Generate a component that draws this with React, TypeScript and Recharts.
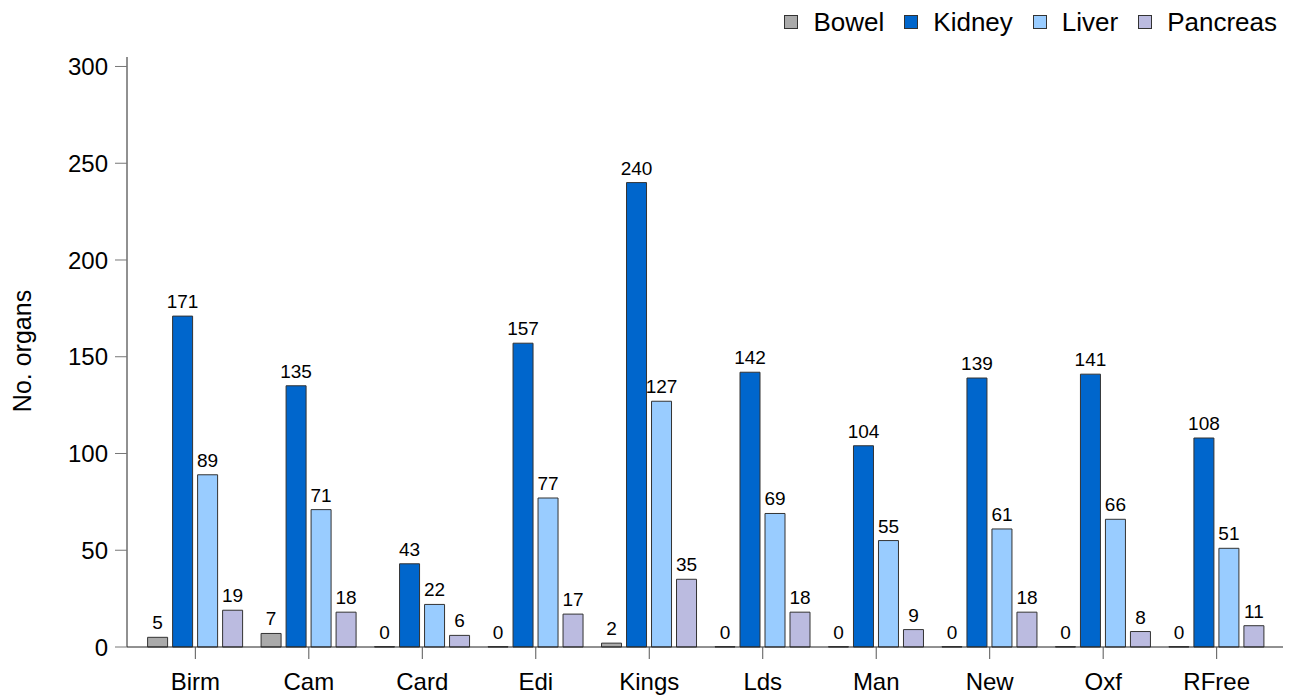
import { BarChart, Bar, XAxis, YAxis, LabelList } from 'recharts'

const centres = ['Birm', 'Cam', 'Card', 'Edi', 'Kings', 'Lds', 'Man', 'New', 'Oxf', 'RFree']
const bowel = [5, 7, 0, 0, 2, 0, 0, 0, 0, 0]
const kidney = [171, 135, 43, 157, 240, 142, 104, 139, 141, 108]
const liver = [89, 71, 22, 77, 127, 69, 55, 61, 66, 51]
const pancreas = [19, 18, 6, 17, 35, 18, 9, 18, 8, 11]
const yTicks = [0, 50, 100, 150, 200, 250, 300]

const series = [
  { key: 'Bowel', color: '#aaaaaa' },
  { key: 'Kidney', color: '#0066cc' },
  { key: 'Liver', color: '#99ccff' },
  { key: 'Pancreas', color: '#bbbbe0' },
]

const data = centres.map((c, i) => ({
  centre: c,
  Bowel: bowel[i],
  Kidney: kidney[i],
  Liver: liver[i],
  Pancreas: pancreas[i],
}))

const font = '"Liberation Sans", Arial, sans-serif'

// zero-height bars get no label otherwise, so draw the value ourselves
const renderValue = (props: any) => {
  const { x, y, width, value } = props
  if (value == null) return null
  return (
    <text x={x + width / 2} y={y - 8} textAnchor="middle" fontSize={19} fill="#000">
      {value}
    </text>
  )
}

export default function App() {
  return (
    <div style={{ position: 'relative', width: 1283, height: 690, fontFamily: font }}>
      <div
        style={{
          position: 'absolute',
          top: 0,
          right: 14,
          display: 'flex',
          alignItems: 'center',
          fontSize: 26,
          lineHeight: '28px',
          color: '#000',
        }}
      >
        {series.map((s, i) => (
          <div key={s.key} style={{ display: 'flex', alignItems: 'center', marginLeft: i === 0 ? 0 : 20 }}>
            <span
              style={{
                display: 'inline-block',
                width: 12,
                height: 12,
                background: s.color,
                border: '1px solid #333',
                marginRight: 15,
              }}
            />
            <span>{s.key}</span>
          </div>
        ))}
      </div>
      <BarChart
        width={1283}
        height={690}
        data={data}
        margin={{ top: 49, right: 6, bottom: 6, left: 39 }}
        barSize={20}
        barGap={5}
        style={{ fontFamily: font }}
      >
        <XAxis
          dataKey="centre"
          height={45}
          padding={{ left: 11.6, right: 11.6 }}
          axisLine={{ stroke: '#222' }}
          tickLine={{ stroke: '#555' }}
          tickSize={12}
          tickMargin={14}
          tick={{ fontSize: 24, fill: '#000' }}
          interval={0}
        />
        <YAxis
          width={80}
          domain={[0, 304.9]}
          ticks={yTicks}
          axisLine={{ stroke: '#222' }}
          tickLine={{ stroke: '#777' }}
          tickSize={12}
          tickMargin={7}
          tick={{ fontSize: 24, fill: '#000' }}
          label={{
            content: () => (
              <text
                x={23}
                y={343}
                transform="rotate(-90 23 343)"
                textAnchor="middle"
                fontSize={25}
                fill="#000"
              >
                No. organs
              </text>
            ),
          }}
        />
        {series.map((s) => (
          <Bar
            key={s.key}
            dataKey={s.key}
            fill={s.color}
            stroke="#333"
            strokeWidth={1}
            minPointSize={(v: number) => (v === 0 ? 0.3 : 0)}
            isAnimationActive={false}
          >
            <LabelList dataKey={s.key} content={renderValue} />
          </Bar>
        ))}
      </BarChart>
    </div>
  )
}
